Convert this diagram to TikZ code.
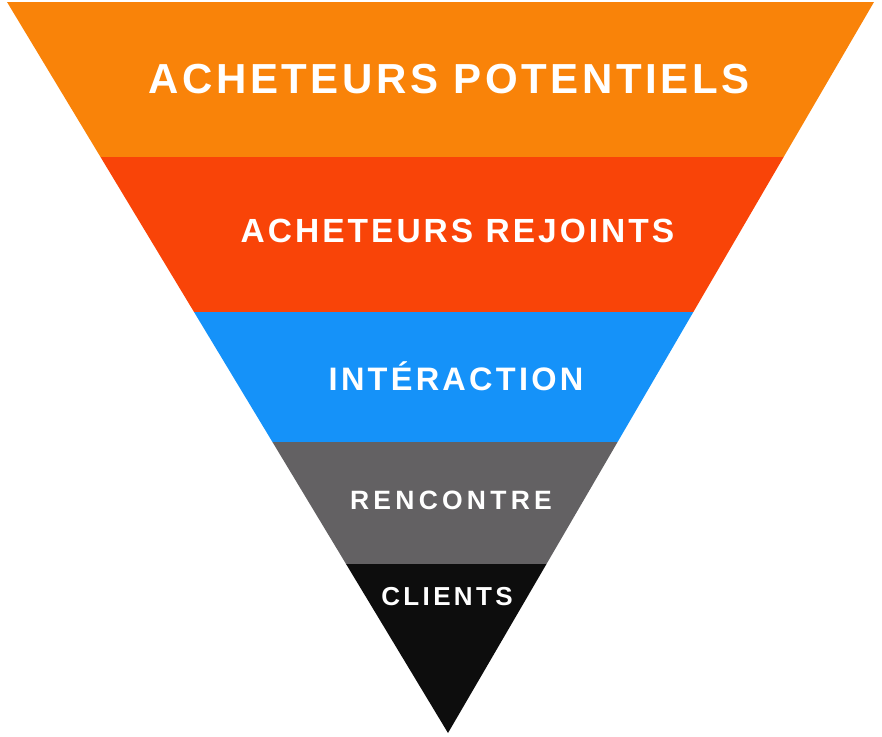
\documentclass[tikz,border=0pt]{standalone}
\usepackage{fontspec}
\setmainfont{Liberation Sans}
\definecolor{cOrange}{HTML}{F98309}
\definecolor{cRed}{HTML}{F94408}
\definecolor{cBlue}{HTML}{1592F9}
\definecolor{cGray}{HTML}{636163}
\definecolor{cBlack}{HTML}{0D0D0D}
\tikzset{
  lbl/.style={text=white, inner sep=0pt, anchor=base},
}
\newcommand{\lblfont}[2]{\bfseries\fontsize{#1}{#1}\selectfont\addfontfeatures{LetterSpace=#2}}
\begin{document}
\begin{tikzpicture}[x=1pt,y=-1pt]
\useasboundingbox (0,0) rectangle (882,736);
\begin{scope}
  \clip (7,2) -- (874,2) -- (448,733) -- cycle;
  \fill[cOrange] (0,0) rectangle (882,156.5);
  \fill[cRed] (0,156.5) rectangle (882,312);
  \fill[cBlue] (0,312) rectangle (882,442);
  \fill[cGray] (0,442) rectangle (882,563.5);
  \fill[cBlack] (0,563.5) rectangle (882,736);
\end{scope}
\node[lbl, font=\lblfont{42}{8.5}] (t1) at (449,93) {ACHETEURS POTENTIELS};
\node[lbl, font=\lblfont{33.5}{9}] (t2) at (457.5,242) {ACHETEURS REJOINTS};
\node[lbl, font=\lblfont{32.5}{10}] (t3) at (456,390) {INTÉRACTION};
\node[lbl, font=\lblfont{26.5}{16}] (t4) at (451,509.5) {RENCONTRE};
\node[lbl, font=\lblfont{26}{13}] (t5) at (447,605) {CLIENTS};
\end{tikzpicture}
\end{document}
